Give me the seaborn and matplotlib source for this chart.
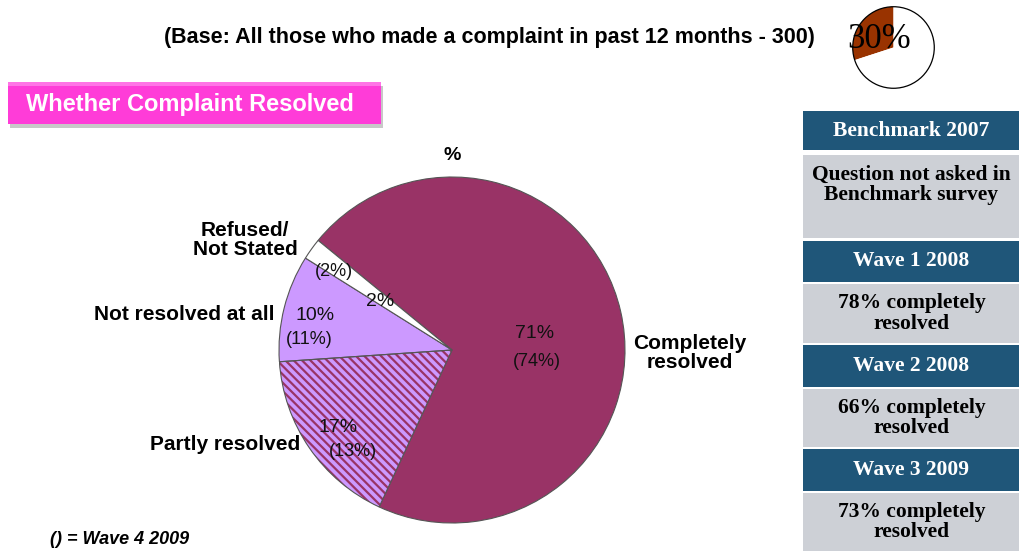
import matplotlib
matplotlib.use("Agg")
import matplotlib.pyplot as plt
from matplotlib.patches import Rectangle, Wedge
import seaborn as sns

sns.set_theme(style="white")
plt.rcParams['font.family'] = ['Liberation Sans', 'DejaVu Sans']
plt.rcParams['text.color'] = 'black'
plt.rcParams['hatch.linewidth'] = 1.6

# ---------------- data ----------------
categories = ["Completely resolved", "Partly resolved", "Not resolved at all", "Refused/\nNot Stated"]
wave5_values = [71, 17, 10, 2]
wave4_values = [74, 13, 11, 2]
slice_colors = ["#993366", "#CC99FF", "#CC99FF", "#FFFFFF"]

base_share = [30, 70]
base_colors = ["#993300", "#FFFFFF"]

panel_headers = ["Benchmark 2007", "Wave 1 2008", "Wave 2 2008", "Wave 3 2009"]
panel_bodies = ["Question not asked in\nBenchmark survey",
                "78% completely\nresolved",
                "66% completely\nresolved",
                "73% completely\nresolved"]

title_text = "(Base: All those who made a complaint in past 12 months - 300)"
box_title = "Whether Complaint Resolved"
footnote = "() = Wave 4 2009"

W, H = 1020, 551
fig = plt.figure(figsize=(W / 100, H / 100), dpi=100)
fig.patch.set_facecolor("white")

def px_axes(x0, y0, w, h):
    return fig.add_axes([x0 / W, (H - y0 - h) / H, w / W, h / H])

# ---------------- main pie ----------------
cx, cy, r = 452, 350, 173
axp = px_axes(cx - r, cy - r, 2 * r, 2 * r)
wedges, _ = axp.pie(wave5_values, colors=slice_colors, startangle=140.7,
                    counterclock=False,
                    wedgeprops=dict(edgecolor="#555555", linewidth=0.8))
axp.set_xlim(-1, 1)
axp.set_ylim(-1, 1)
axp.axis("off")
# hatched "Partly resolved" slice
hw = wedges[1]
hw.set_facecolor("#CC99FF")
hw.set_hatch("\\" * 4)
hw.set_edgecolor("#993366")
hw.set_linewidth(0)
axp.add_patch(Wedge(hw.center, hw.r, hw.theta1, hw.theta2, fill=False,
                    edgecolor="#555555", linewidth=0.8))

# ---------------- small pie ----------------
axs = px_axes(851.5, 5.5, 84, 84)
axs.pie(base_share, colors=base_colors, startangle=90, counterclock=True,
        wedgeprops=dict(linewidth=0))
axs.add_patch(Wedge((0, 0), 1, 0, 360, fill=False, edgecolor="black", linewidth=0.9))
axs.set_xlim(-1.03, 1.03)
axs.set_ylim(-1.03, 1.03)
axs.axis("off")

# ---------------- overlay ----------------
ax = fig.add_axes([0, 0, 1, 1])
ax.set_xlim(0, W)
ax.set_ylim(H, 0)
ax.axis("off")
ax.patch.set_alpha(0)

serif = ['Liberation Serif', 'DejaVu Serif']

ax.text(489, 38, title_text, ha="center", va="center", fontsize=15.5,
        fontweight="bold")
ax.text(879, 40, f"{base_share[0]}%", ha="center", va="center", fontsize=25,
        family=serif, color="black")

# pink title box with shadow
ax.add_patch(Rectangle((10, 86), 373, 42, facecolor="#C8C8C8", edgecolor="none"))
ax.add_patch(Rectangle((8, 82), 373, 42, facecolor="#FF3CD8", edgecolor="none"))
ax.add_patch(Rectangle((8, 82), 373, 4, facecolor="#FF74E6", edgecolor="none"))
ax.text(26, 104, box_title, ha="left", va="center", fontsize=17,
        fontweight="bold", color="white")

ax.text(452, 155, "%", ha="center", va="center", fontsize=14, fontweight="bold")

# outer category labels
ax.text(690, 353, "Completely\nresolved", ha="center", va="center", fontsize=15,
        fontweight="bold", linespacing=1.0)
ax.text(300, 444, "Partly resolved", ha="right", va="center", fontsize=15, fontweight="bold")
ax.text(275, 315, "Not resolved at all", ha="right", va="center", fontsize=15, fontweight="bold")
ax.text(245, 240, "Refused/\nNot Stated", ha="center", va="center", fontsize=15,
        fontweight="bold", linespacing=1.0)

# inner value labels
in_pos5 = [(535, 333), (338, 428), (315, 315), (380, 302)]
in_pos4 = [(537, 362), (353, 452), (309, 340), (334, 271)]
for (x, y), v in zip(in_pos5, wave5_values):
    ax.text(x, y, f"{v}%", ha="center", va="center", fontsize=14, color="#111111")
for (x, y), v in zip(in_pos4, wave4_values):
    ax.text(x, y, f"({v}%)", ha="center", va="center", fontsize=13, color="#111111")

ax.text(50, 540, footnote, ha="left", va="center", fontsize=13,
        fontweight="bold", style="italic")

# right-hand panel
header_rows = [(111, 150), (241, 282), (345, 387), (449, 491)]
body_rows = [(155, 238), (284, 343), (389, 447), (493, 551)]
px0, px1 = 803, 1020
for (h0, h1), (b0, b1), htxt, btxt in zip(header_rows, body_rows, panel_headers, panel_bodies):
    ax.add_patch(Rectangle((px0, h0), px1 - px0, h1 - h0, facecolor="#1F5679", edgecolor="none"))
    ax.add_patch(Rectangle((px0, b0), px1 - px0, b1 - b0, facecolor="#CDD0D6", edgecolor="none"))
    ax.text((px0 + px1) / 2, (h0 + h1) / 2, htxt, ha="center", va="center",
            fontsize=15.5, fontweight="bold", color="white", family=serif)
    ycen = b0 + 30 if btxt.startswith("Question") else (b0 + b1) / 2
    ax.text((px0 + px1) / 2, ycen, btxt, ha="center", va="center",
            fontsize=15.5, fontweight="bold", color="black", family=serif, linespacing=1.05)

fig.savefig("out.png", dpi=100)
